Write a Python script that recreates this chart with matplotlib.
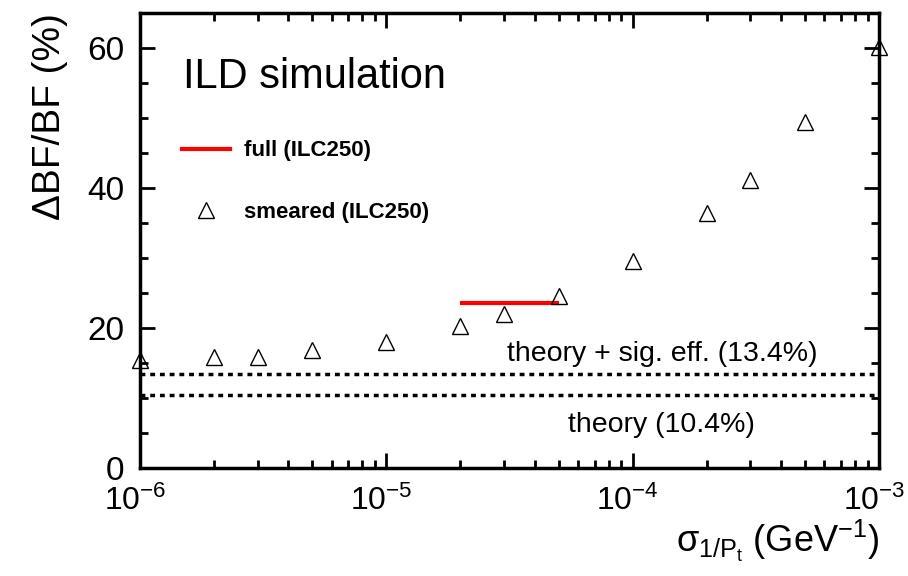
import matplotlib
matplotlib.use("Agg")
import matplotlib.pyplot as plt
import matplotlib.transforms as mtransforms
from matplotlib.lines import Line2D
from matplotlib.ticker import LogLocator, MultipleLocator, NullFormatter

plt.rcParams['font.family'] = ['Liberation Sans', 'DejaVu Sans']
plt.rcParams['mathtext.fontset'] = 'custom'
plt.rcParams['mathtext.rm'] = 'Liberation Sans'
plt.rcParams['mathtext.it'] = 'Liberation Sans'
plt.rcParams['mathtext.bf'] = 'Liberation Sans:bold'
plt.rcParams['mathtext.sf'] = 'Liberation Sans'

# data
sigma_smeared = [1e-6, 2e-6, 3e-6, 5e-6, 1e-5, 2e-5, 3e-5, 5e-5, 1e-4, 2e-4, 3e-4, 5e-4, 1e-3]
bf_smeared = [15.4, 15.8, 15.9, 16.9, 18.0, 20.3, 22.0, 24.6, 29.6, 36.4, 41.1, 49.4, 60.1]
sigma_full = [2e-5, 5e-5]
bf_full = [23.6, 23.6]
theory_sig = 13.4
theory = 10.4
x_range = [1e-6, 1e-3]
y_range = [0, 65]

fig = plt.figure(figsize=(9.08, 5.76), dpi=100)
ax = fig.add_axes([140/908, 1-468/576, (879-140)/908, (468-13)/576])

ax.set_xscale('log')
ax.set_xlim(*x_range)
ax.set_ylim(*y_range)

ax.axhline(theory_sig, color='black', lw=2.5, dashes=(1.4, 1.4))
ax.axhline(theory, color='black', lw=2.5, dashes=(1.4, 1.4))

ax.plot(sigma_full, bf_full, color='red', lw=3, solid_capstyle='butt')
ax.plot(sigma_smeared, bf_smeared, ls='none', marker='^', ms=12,
        mfc='none', mec='black', mew=1.0, clip_on=False, zorder=5)

# ticks
ax.xaxis.set_major_locator(LogLocator(base=10, numticks=10))
ax.xaxis.set_minor_locator(LogLocator(base=10, subs=range(2, 10), numticks=20))
ax.xaxis.set_minor_formatter(NullFormatter())
ax.yaxis.set_major_locator(MultipleLocator(20))
ax.yaxis.set_minor_locator(MultipleLocator(5))
ax.tick_params(which='both', direction='in', top=True, right=True, width=2)
ax.tick_params(which='major', length=11)
ax.tick_params(which='minor', length=6)
ax.tick_params(axis='y', which='major', labelsize=24, pad=11)
ax.tick_params(axis='x', which='major', labelsize=23, pad=13)
for sp in ax.spines.values():
    sp.set_linewidth(2.5)

fig.canvas.draw()
shift = mtransforms.ScaledTranslation(-5/100, 0, fig.dpi_scale_trans)
for lbl in ax.get_xticklabels():
    lbl.set_transform(lbl.get_transform() + shift)

ax.set_ylabel('ΔBF/BF (%)', fontsize=28, loc='top', labelpad=14)
ax.set_xlabel(r'$\sigma_{1/P_{t}}$ (GeV$^{-1}$)', fontsize=26, loc='right', labelpad=0)

ax.text(0.058, 0.8355, 'ILD simulation', transform=ax.transAxes, fontsize=30,
        ha='left', va='baseline')
ax.text(0.4966, 0.2346, 'theory + sig. eff. (13.4%)', transform=ax.transAxes,
        fontsize=20.5, ha='left', va='baseline')
ax.text(0.579, 0.079, 'theory (10.4%)', transform=ax.transAxes,
        fontsize=20.5, ha='left', va='baseline')

handles = [Line2D([], [], color='red', lw=3),
           Line2D([], [], ls='none', marker='^', ms=12, mfc='none', mec='black', mew=1.0)]
labels = ['full (ILC250)', 'smeared (ILC250)']
ax.legend(handles, labels, loc='upper left', bbox_to_anchor=(0.0568, 0.720),
          frameon=False, borderpad=0, borderaxespad=0, handlelength=2.16,
          handletextpad=0.63, labelspacing=1.82,
          prop={'weight': 'bold', 'size': 16})

fig.savefig('out.png', dpi=100)
